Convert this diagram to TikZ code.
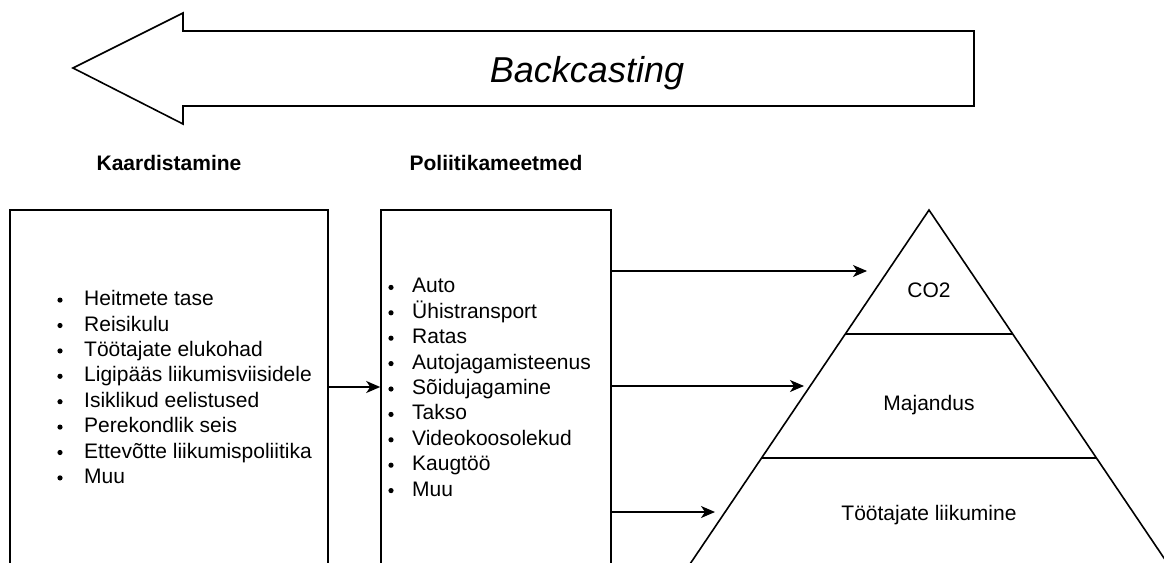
\documentclass[tikz,border=0pt]{standalone}
\usepackage{fontspec}
\setmainfont{Liberation Sans}
\usetikzlibrary{calc,arrows.meta,positioning}
\tikzset{
  ar/.style={-{Stealth[length=14pt,width=12pt,inset=4pt]},line width=1.4pt},
  box/.style={draw,line width=1.6pt,inner sep=0pt},
  item/.style={anchor=base west,inner sep=0pt,font=\fontsize{21}{25}\selectfont},
  head/.style={inner sep=0pt,font=\fontsize{21}{25}\selectfont\bfseries},
  lvl/.style={anchor=base,inner sep=0pt,font=\fontsize{21}{25}\selectfont}
}
\newcommand{\punkte}[5]{%
  \foreach \t [count=\i] in {#2}{%
    \pgfmathsetmacro{\yy}{387+(\i-(#3+1)/2)*25.4}
    \fill (#4,\yy+2) circle (2.6pt);
    \node[item] (#1\i) at (#5,\yy+7.5) {\t};}
}

\begin{document}
\begin{tikzpicture}[x=1pt,y=-1pt]
\useasboundingbox (0,0) rectangle (1164,562);
\clip (0,0) rectangle (1164,562);
\draw[line width=1.6pt] (73,68) -- (183,13) -- (183,31) -- (974,31) -- (974,106)
  -- (183,106) -- (183,124) -- cycle;
\node[anchor=base,inner sep=0pt,font=\fontsize{36}{40}\selectfont\itshape] (back) at (587,82) {Backcasting};

\node[box,minimum width=318,minimum height=354] (kaart) at (169,387) {};
\node[box,minimum width=230,minimum height=354] (meetmed) at (496,387) {};
\node[head,above=38pt of kaart.north] (kaartlbl) {Kaardistamine};
\node[head,above=38pt of meetmed.north] (meetmedlbl) {Poliitikameetmed};
\punkte{k}{Heitmete tase,Reisikulu,Töötajate elukohad,Ligipääs liikumisviisidele,Isiklikud eelistused,Perekondlik seis,Ettevõtte liikumispoliitika,Muu}{8}{60}{84}
\punkte{m}{Auto,Ühistransport,Ratas,Autojagamisteenus,Sõidujagamine,Takso,Videokoosolekud,Kaugtöö,Muu}{9}{391}{412}
\draw[ar] (kaart.east) -- (meetmed.west);

\coordinate (top) at (929,210);
\coordinate (pl) at (690,564);
\coordinate (pr) at (1168,564);
\draw[line width=1.6pt] (pl) -- (top) -- (pr);
\draw[line width=1.6pt] ($(top)!0.3503!(pl)$) -- ($(top)!0.3503!(pr)$);
\draw[line width=1.6pt] ($(top)!0.7006!(pl)$) -- ($(top)!0.7006!(pr)$);
\node[lvl] (co) at (929,297) {CO2};
\node[lvl] (maj) at (929,410) {Majandus};
\node[lvl] (tl) at (929,520) {Töötajate liikumine};

\coordinate (t1) at (867,271);
\coordinate (t2) at (804,386);
\coordinate (t3) at (715,512);
\draw[ar] (meetmed.east |- t1) -- (t1);
\draw[ar] (meetmed.east |- t2) -- (t2);
\draw[ar] (meetmed.east |- t3) -- (t3);
\end{tikzpicture}
\end{document}
